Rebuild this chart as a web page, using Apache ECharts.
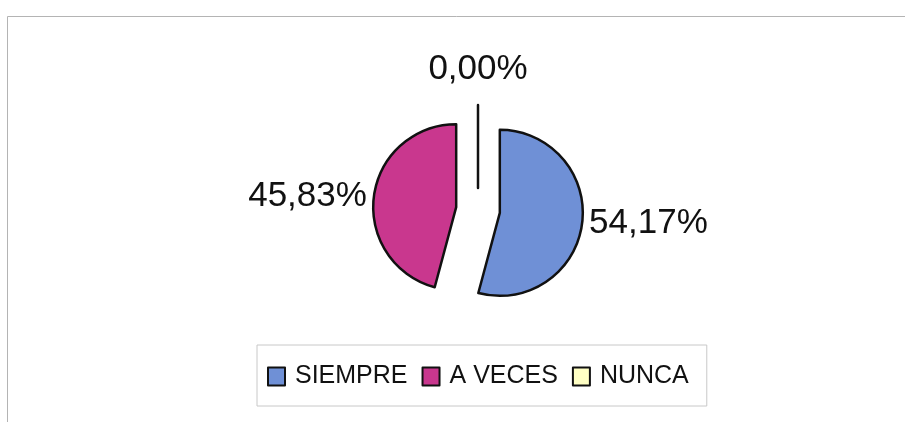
<!DOCTYPE html>
<html><head><meta charset="utf-8">
<script src="https://cdn.jsdelivr.net/npm/echarts@6/dist/echarts.min.js"></script>
<style>html,body{margin:0;padding:0;background:#fff}#c{width:905px;height:422px}</style>
</head><body><div id="c"></div>
<script>
const categories = ['SIEMPRE', 'A VECES', 'NUNCA'];
const values = [54.17, 45.83, 0.00];
const sliceColors = ['#6f90d6', '#c9378e', '#ffffc4'];

const fmt = v => v.toFixed(2).replace('.', ',') + '%';
const FONT = 'Liberation Sans, Arial, sans-serif';

const chart = echarts.init(document.getElementById('c'), null, {renderer: 'canvas'});
chart.setOption({
  backgroundColor: '#fff',
  animation: false,
  graphic: [{
    type: 'rect', left: 5, top: 14, silent: true, z: -10,
    shape: {width: 1000, height: 500},
    style: {fill: 'none', stroke: '#b4b4b4', lineWidth: 1}
  }],
  legend: {
    data: categories, left: 257, top: 345, orient: 'horizontal',
    icon: 'rect', itemWidth: 17, itemHeight: 18, itemGap: 14,
    padding: [19, 18, 17, 10],
    backgroundColor: '#fff', borderColor: '#c8c8c8', borderWidth: 1,
    selectedMode: false,
    textStyle: {fontSize: 25, fontFamily: FONT, color: '#111', padding: [0, 0, 0, 5]},
    itemStyle: {borderColor: '#111', borderWidth: 2}
  },
  series: [{
    type: 'pie', center: [478, 210], radius: 83, startAngle: 90, clockwise: true,
    selectedMode: 'multiple', selectedOffset: 22,
    emphasis: {disabled: true},
    itemStyle: {borderColor: '#111', borderWidth: 2.5},
    label: {show: true, position: 'outside', formatter: p => fmt(p.value),
      fontSize: 35, fontFamily: FONT, color: '#111', distanceToLabelLine: 5},
    labelLine: {show: false, length: 0, length2: 2},
    data: categories.map((n, i) => ({
      name: n, value: values[i], selected: true,
      itemStyle: {color: sliceColors[i]},
      label: {show: values[i] !== 0}
    }))
  }, {
    type: 'pie', center: [478, 210], radius: [124, 152], startAngle: 90, clockwise: true,
    silent: true, emphasis: {disabled: true},
    itemStyle: {color: 'rgba(0,0,0,0)', borderWidth: 0},
    label: {position: 'inside', formatter: p => fmt(p.value),
      fontSize: 35, fontFamily: FONT, color: '#111'},
    labelLine: {show: false},
    data: categories.map((n, i) => ({
      name: n, value: values[i],
      label: {show: values[i] === 0}
    }))
  }]
});
</script></body></html>
